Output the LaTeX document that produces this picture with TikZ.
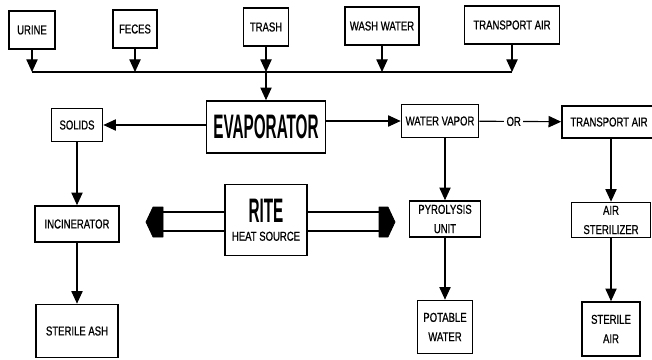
\documentclass[tikz,border=0pt]{standalone}
\usepackage{fontspec}
\setmainfont{Liberation Sans}[FakeStretch=0.74, FakeBold=0.8]
\newfontfamily\bigfont{Liberation Sans}[FakeStretch=0.45]
\usepackage{tikz}
\usetikzlibrary{arrows.meta}

\begin{document}
\begin{tikzpicture}[
    x=0.03cm, y=-0.03cm,
    box/.style={rectangle, draw, line width=1.4pt, align=center, inner sep=1pt, font=\fontsize{11}{16.5}\selectfont},
    bigbox/.style={rectangle, draw, line width=1.4pt, align=center, inner sep=1pt, font=\bigfont\bfseries\fontsize{29}{30}\selectfont},
    arr/.style={-{Triangle[width=3.4mm, length=3.8mm]}, line width=1pt},
    bus/.style={line width=1pt},
    heat/.style={line width=1.2pt},
    heathead/.style={fill=black, draw=black, line width=0.6pt, line join=round},
]
\useasboundingbox (0,0) rectangle (652,359);

% Input streams
\node[box, minimum width=1.38cm, minimum height=1.14cm] (urine) at (32,30) {URINE};
\node[box, minimum width=1.32cm, minimum height=1.14cm] (feces) at (135,29) {FECES};
\node[box, minimum width=1.35cm, minimum height=1.14cm] (trash) at (266,27) {TRASH};
\node[box, minimum width=2.22cm, minimum height=1.14cm] (wash) at (382,26) {WASH WATER};
\node[box, minimum width=2.85cm, minimum height=1.14cm] (tair) at (512,25) {TRANSPORT AIR};

% Collecting line
\coordinate (busL) at (32,72);
\coordinate (busR) at (512,72);
\draw[bus] (busL) -- (busR);

% Evaporator and RITE
\node[bigbox, minimum width=3.57cm, minimum height=1.56cm] (ev) at (266,127) {EVAPORATOR};
\node[box, minimum width=2.46cm, minimum height=2.13cm] (rite) at (266,220)
    {{\bigfont\bfseries\fontsize{29}{30}\selectfont RITE}\\[-1pt]HEAT SOURCE};

% Solids branch
\node[box, minimum width=1.53cm, minimum height=0.99cm] (solids) at (77,125) {SOLIDS};
\node[box, minimum width=2.52cm, minimum height=1.08cm] (incin) at (77,224) {INCINERATOR};
\node[box, minimum width=2.46cm, minimum height=1.59cm] (ash) at (77,331) {STERILE ASH};

% Water branch
\node[box, minimum width=2.31cm, minimum height=0.99cm] (wv) at (440,121) {WATER VAPOR};
\node[box, minimum width=2.13cm, minimum height=1.08cm] (pyro) at (445,219) {PYROLYSIS\\UNIT};
\node[box, minimum width=1.65cm, minimum height=1.59cm] (potable) at (445,327) {POTABLE\\WATER};

% Air branch
\node[box, minimum width=2.82cm, minimum height=0.96cm] (tair2) at (609,122) {TRANSPORT AIR};
\node[box, minimum width=2.37cm, minimum height=1.05cm] (ster) at (611,220) {AIR\\STERILIZER};
\node[box, minimum width=1.74cm, minimum height=1.62cm] (sair) at (611,329) {STERILE\\AIR};

% Inputs -> collecting line
\draw[arr] (urine) -- (urine |- busL);
\draw[arr] (feces) -- (feces |- busL);
\draw[arr] (trash) -- (trash |- busL);
\draw[arr] (wash) -- (wash |- busL);
\draw[arr] (tair) -- (tair |- busL);
\draw[arr] (ev |- busL) -- (ev);

% Evaporator outputs
\draw[arr] (ev.west |- solids) -- (solids);
\draw[arr] (ev.east |- wv) -- (wv);
\draw[arr] (wv) -- node[fill=white, inner sep=2pt, pos=0.42, font=\fontsize{11}{12}\selectfont]{OR} (tair2);

% Downstream
\draw[arr] (solids) -- (incin);
\draw[arr] (incin) -- (ash);
\draw[arr] (wv.south -| pyro) -- (pyro);
\draw[arr] (pyro) -- (potable);
\draw[arr] (tair2.south -| ster) -- (ster);
\draw[arr] (ster) -- (sair);

% Heat arrows
\coordinate (hl1) at (163,212);
\coordinate (hl2) at (163,231);
\coordinate (hr1) at (379,212);
\coordinate (hr2) at (379,231);
\draw[heat] (rite.west |- hl1) -- (hl1);
\draw[heat] (rite.west |- hl2) -- (hl2);
\draw[heat] (rite.east |- hr1) -- (hr1);
\draw[heat] (rite.east |- hr2) -- (hr2);
\fill[heathead] (163,207) -- (153,207) -- (146,222) -- (153,237) -- (163,237) -- cycle;
\fill[heathead] (379,207) -- (388,207) -- (395,222) -- (388,237) -- (379,237) -- cycle;

\end{tikzpicture}
\end{document}
